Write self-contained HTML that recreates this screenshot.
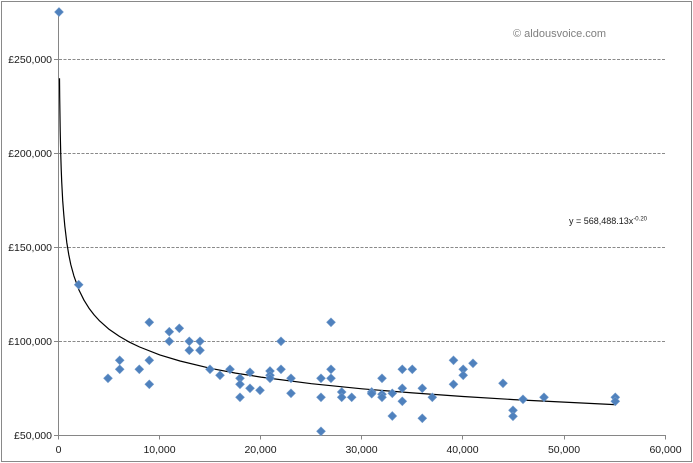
<!DOCTYPE html>
<html><head><meta charset="utf-8"><style>
html,body{margin:0;padding:0;background:#fff;}
svg{display:block;}
text{font-family:"Liberation Sans",sans-serif;}
</style></head><body>
<svg width="693" height="463" viewBox="0 0 693 463" xmlns="http://www.w3.org/2000/svg">
<rect x="0" y="0" width="693" height="463" fill="#fff"/>
<rect x="1.5" y="1.5" width="690" height="460" fill="none" stroke="#898989" stroke-width="1"/>
<g stroke="#8a8a8a" stroke-width="1" stroke-dasharray="3,1.5">
<line x1="59" y1="59.5" x2="666" y2="59.5"/>
<line x1="59" y1="153.5" x2="666" y2="153.5"/>
<line x1="59" y1="247.5" x2="666" y2="247.5"/>
<line x1="59" y1="341.5" x2="666" y2="341.5"/>
</g>
<g stroke="#868686" stroke-width="1">
<line x1="58.5" y1="10" x2="58.5" y2="435.5"/>
<line x1="58.5" y1="435.5" x2="666" y2="435.5"/>
<line x1="54" y1="59.5" x2="58.5" y2="59.5"/>
<line x1="54" y1="153.5" x2="58.5" y2="153.5"/>
<line x1="54" y1="247.5" x2="58.5" y2="247.5"/>
<line x1="54" y1="341.5" x2="58.5" y2="341.5"/>
<line x1="54" y1="435.5" x2="58.5" y2="435.5"/>
<line x1="58.5" y1="435.5" x2="58.5" y2="439.5"/>
<line x1="159.5" y1="435.5" x2="159.5" y2="439.5"/>
<line x1="260.5" y1="435.5" x2="260.5" y2="439.5"/>
<line x1="361.5" y1="435.5" x2="361.5" y2="439.5"/>
<line x1="462.5" y1="435.5" x2="462.5" y2="439.5"/>
<line x1="564.5" y1="435.5" x2="564.5" y2="439.5"/>
<line x1="665.5" y1="435.5" x2="665.5" y2="439.5"/>
</g>
<g font-size="10.5" fill="#1a1a1a" text-anchor="end">
<text x="52" y="63">£250,000</text>
<text x="52" y="157">£200,000</text>
<text x="52" y="251">£150,000</text>
<text x="52" y="345">£100,000</text>
<text x="52" y="439">£50,000</text>
</g>
<g font-size="10.5" fill="#1a1a1a" text-anchor="middle">
<text x="58.5" y="453">0</text>
<text x="159.5" y="453">10,000</text>
<text x="260.5" y="453">20,000</text>
<text x="361.5" y="453">30,000</text>
<text x="462.5" y="453">40,000</text>
<text x="564" y="453">50,000</text>
<text x="665.5" y="453">60,000</text>
</g>
<polyline fill="none" stroke="#000" stroke-width="1.2" stroke-linejoin="round" points="59.5,78.2 59.7,97.5 60.2,130.7 60.7,152.7 61.2,168.8 61.7,181.6 62.7,200.7 63.8,214.8 64.8,225.9 66.8,242.6 68.8,254.9 70.8,264.6 73.9,275.9 78.9,289.9 84,300.2 89,308.2 94.1,314.9 99.1,320.4 109.2,329.4 119.4,336.4 129.5,342.2 139.6,347 159.8,354.9 180,361 210.3,368.3 235.6,373.1 260.9,377.1 311.4,383.7 361.9,388.8 412.5,392.9 463,396.5 513.6,399.6 564.1,402.1 614.6,404.6"/>
<defs><path id="d" d="M0,-4.4 L4.4,0 L0,4.4 L-4.4,0 Z" fill="#4f81bd" stroke="#6f98c9" stroke-width="0.6"/></defs>
<g>
<use href="#d" x="59" y="12"/>
<use href="#d" x="78.7" y="284.7"/>
<use href="#d" x="108" y="378.3"/>
<use href="#d" x="119.7" y="360.3"/>
<use href="#d" x="119.7" y="369.3"/>
<use href="#d" x="139.3" y="369.3"/>
<use href="#d" x="149.3" y="322.3"/>
<use href="#d" x="149.3" y="360.3"/>
<use href="#d" x="149.3" y="384.3"/>
<use href="#d" x="169.3" y="331.7"/>
<use href="#d" x="169.3" y="341.3"/>
<use href="#d" x="179.3" y="328.3"/>
<use href="#d" x="189.3" y="341.3"/>
<use href="#d" x="189.3" y="350.3"/>
<use href="#d" x="200" y="341.3"/>
<use href="#d" x="200" y="350.3"/>
<use href="#d" x="210" y="369.3"/>
<use href="#d" x="220" y="375.3"/>
<use href="#d" x="230" y="369.3"/>
<use href="#d" x="240" y="378.3"/>
<use href="#d" x="240" y="384.3"/>
<use href="#d" x="240" y="397.3"/>
<use href="#d" x="250" y="372.3"/>
<use href="#d" x="250" y="388.3"/>
<use href="#d" x="260" y="390.3"/>
<use href="#d" x="270" y="371"/>
<use href="#d" x="270" y="375.3"/>
<use href="#d" x="270" y="378.3"/>
<use href="#d" x="281" y="341.3"/>
<use href="#d" x="281" y="369.3"/>
<use href="#d" x="291" y="378.3"/>
<use href="#d" x="291" y="393.3"/>
<use href="#d" x="321" y="378.3"/>
<use href="#d" x="321" y="397.3"/>
<use href="#d" x="321" y="431.3"/>
<use href="#d" x="331" y="322.3"/>
<use href="#d" x="331" y="369.3"/>
<use href="#d" x="331" y="378.3"/>
<use href="#d" x="341.7" y="392"/>
<use href="#d" x="341.7" y="397.3"/>
<use href="#d" x="351.7" y="397.3"/>
<use href="#d" x="371.7" y="392"/>
<use href="#d" x="371.7" y="393.7"/>
<use href="#d" x="382" y="378.3"/>
<use href="#d" x="382" y="394.3"/>
<use href="#d" x="382" y="397.3"/>
<use href="#d" x="392.3" y="393.3"/>
<use href="#d" x="392.3" y="416"/>
<use href="#d" x="402.3" y="369.3"/>
<use href="#d" x="402.3" y="388.3"/>
<use href="#d" x="402.3" y="401.3"/>
<use href="#d" x="412.3" y="369.3"/>
<use href="#d" x="422.3" y="388.3"/>
<use href="#d" x="422.3" y="418.3"/>
<use href="#d" x="432.3" y="397.3"/>
<use href="#d" x="453.5" y="360.3"/>
<use href="#d" x="453.5" y="384.3"/>
<use href="#d" x="463.2" y="369.3"/>
<use href="#d" x="463.2" y="375.3"/>
<use href="#d" x="473" y="363.3"/>
<use href="#d" x="503" y="383.3"/>
<use href="#d" x="513" y="410.3"/>
<use href="#d" x="513" y="416.3"/>
<use href="#d" x="523" y="399.3"/>
<use href="#d" x="544" y="397.3"/>
<use href="#d" x="615.3" y="397.3"/>
<use href="#d" x="615.3" y="401.3"/>
</g>
<text x="513" y="37" font-size="11" fill="#7f7f7f">© aldousvoice.com</text>
<text x="569" y="224" font-size="9" fill="#1a1a1a">y = 568,488.13x<tspan font-size="6" dy="-3.5">-0.20</tspan></text>
</svg>
</body></html>
